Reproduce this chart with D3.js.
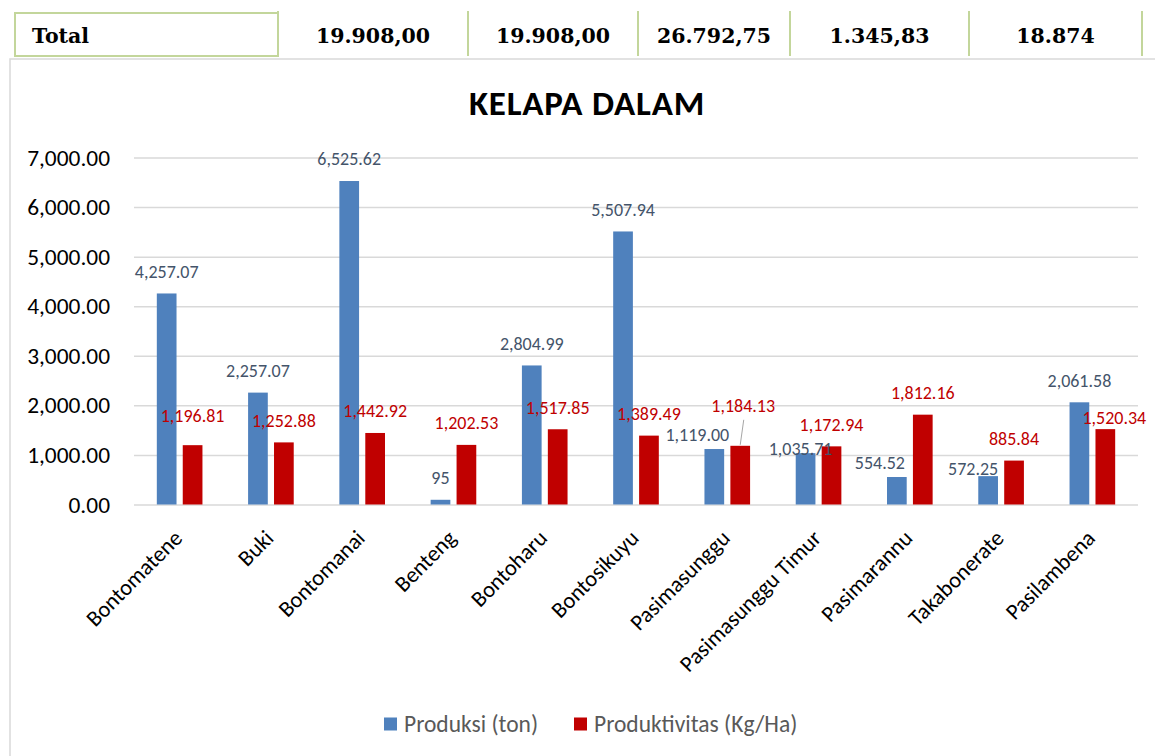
<!DOCTYPE html>
<html>
<head>
<meta charset="utf-8">
<script src="https://cdn.jsdelivr.net/npm/d3@7"></script>
<style>
  html, body { margin: 0; padding: 0; background: #fff; }
  svg { display: block; font-family: Carlito, Calibri, Lato, sans-serif; }
</style>
</head>
<body>
<svg id="chart" width="1155" height="756"></svg>
<script>
// data
const categories = ["Bontomatene", "Buki", "Bontomanai", "Benteng", "Bontoharu", "Bontosikuyu",
  "Pasimasunggu", "Pasimasunggu Timur", "Pasimarannu", "Takabonerate", "Pasilambena"];
const produksi = [4257.07, 2257.07, 6525.62, 95, 2804.99, 5507.94, 1119.00, 1035.71, 554.52, 572.25, 2061.58];
const produktivitas = [1196.81, 1252.88, 1442.92, 1202.53, 1517.85, 1389.49, 1184.13, 1172.94, 1812.16, 885.84, 1520.34];
const seriesNames = ["Produksi (ton)", "Produktivitas (Kg/Ha)"];
const yTicks = [0, 1000, 2000, 3000, 4000, 5000, 6000, 7000];
const totalRow = ["Total", "19.908,00", "19.908,00", "26.792,75", "1.345,83", "18.874"];
// Benteng produksi is shown without decimals in the source
const plainLabel = ["Benteng"];

// hand-moved data labels (dx, dy in px) like in the excel chart
const nudgeProd = { "Pasimasunggu": [-17, 8], "Pasimasunggu Timur": [-5, 18], "Pasimarannu": [-17, 8], "Takabonerate": [-15, 15] };
const nudgeProdv = { "Bontomatene": [0, -7], "Pasimasunggu": [3, -18], "Pasilambena": [9, 11] };

const colors = ["#4f81bd", "#c00000"];
const labelColors = ["#44546a", "#c00000"];

const svg = d3.select("#chart");

// --- table row on top
const tableX = [15, 278, 468, 638, 790, 969, 1142];
const green = "#c3d69b";
const table = svg.append("g");
table.append("rect")
  .attr("x", tableX[0]).attr("y", 13)
  .attr("width", tableX[1] - tableX[0]).attr("height", 43)
  .attr("fill", "none").attr("stroke", green).attr("stroke-width", 2);
table.selectAll("line.div")
  .data(tableX.slice(1))
  .enter().append("line")
  .attr("x1", d => d).attr("x2", d => d)
  .attr("y1", 11).attr("y2", 56)
  .attr("stroke", green).attr("stroke-width", 2);
table.selectAll("text")
  .data(totalRow)
  .enter().append("text")
  .attr("x", (d, i) => i === 0 ? 32 : (tableX[i] + tableX[i + 1]) / 2)
  .attr("y", 36)
  .attr("dy", "0.35em")
  .attr("text-anchor", (d, i) => i === 0 ? "start" : "middle")
  .style("font-family", "'DejaVu Serif', serif")
  .style("font-weight", "bold")
  .style("font-size", "20.5px")
  .attr("fill", "#000")
  .text(d => d);

// --- chart frame
svg.append("path")
  .attr("d", "M10,760 L10,59 L1160,59")
  .attr("fill", "none").attr("stroke", "#d9d9d9").attr("stroke-width", 1.5);

svg.append("text")
  .attr("x", 587).attr("y", 103).attr("dy", "0.35em")
  .attr("text-anchor", "middle")
  .style("font-weight", "bold").style("font-size", "35px")
  .style("letter-spacing", "0.8px")
  .text("KELAPA DALAM");

const plotL = 134, plotR = 1138, plotT = 157.5, plotB = 504.5;

const x = d3.scaleBand().domain(categories).range([plotL, plotR])
  .paddingInner(0.5).paddingOuter(0.25);
const xs = d3.scaleBand().domain([0, 1]).range([0, x.bandwidth()]).paddingInner(0.24);
const y = d3.scaleLinear().domain([0, 7000]).range([plotB, plotT]);

// y axis + gridlines
const yAxis = svg.append("g")
  .attr("transform", "translate(" + plotL + ",0)")
  .call(d3.axisLeft(y).tickValues(yTicks).tickFormat(d3.format(",.2f"))
    .tickSize(-(plotR - plotL)).tickPadding(24));
yAxis.attr("font-family", null).attr("font-size", null);
yAxis.select(".domain").remove();
yAxis.selectAll("line").attr("stroke", "#d9d9d9").attr("stroke-width", 1.5);
yAxis.selectAll("text").style("font-size", "23.4px").attr("fill", "#000");

// x axis labels
const xAxis = svg.append("g")
  .attr("transform", "translate(0," + plotB + ")")
  .call(d3.axisBottom(x).tickSize(0).tickPadding(0));
xAxis.attr("font-family", null).attr("font-size", null);
xAxis.select(".domain").remove();
xAxis.selectAll("text")
  .style("font-size", "22.5px").attr("fill", "#000")
  .attr("text-anchor", "end")
  .attr("dy", null).attr("y", 0)
  .attr("transform", "translate(4,35) rotate(-45)");

// bars
const rows = categories.map((c, i) => ({ cat: c, vals: [produksi[i], produktivitas[i]] }));
const groups = svg.selectAll("g.grp")
  .data(rows)
  .enter().append("g")
  .attr("class", "grp")
  .attr("transform", d => "translate(" + x(d.cat) + ",0)");

groups.selectAll("rect")
  .data(d => d.vals.map((v, s) => ({ cat: d.cat, v: v, s: s })))
  .enter().append("rect")
  .attr("x", d => xs(d.s))
  .attr("width", xs.bandwidth())
  .attr("y", d => y(d.v))
  .attr("height", d => y(0) - y(d.v))
  .attr("fill", d => colors[d.s]);

// data labels
const fmt = d3.format(",.2f");
function labelPos(d) {
  const nudge = (d.s === 0 ? nudgeProd : nudgeProdv)[d.cat] || [0, 0];
  return [xs(d.s) + xs.bandwidth() / 2 + nudge[0], y(d.v) - 22 + nudge[1]];
}

groups.selectAll("text.lbl")
  .data(d => d.vals.map((v, s) => ({ cat: d.cat, v: v, s: s })))
  .enter().append("text")
  .attr("class", "lbl")
  .attr("x", d => labelPos(d)[0])
  .attr("y", d => labelPos(d)[1])
  .attr("dy", "0.35em")
  .attr("text-anchor", "middle")
  .style("font-size", "18px")
  .attr("fill", d => labelColors[d.s])
  .text(d => d.s === 0 && plainLabel.includes(d.cat) ? String(d.v) : fmt(d.v));

// leader line for the moved Pasimasunggu label
groups.filter(d => d.cat === "Pasimasunggu")
  .append("line")
  .attr("x1", xs(1) + xs.bandwidth() / 2 + 3.5)
  .attr("y1", d => labelPos({ cat: d.cat, v: d.vals[1], s: 1 })[1] + 14)
  .attr("x2", xs(1) + xs.bandwidth() / 2)
  .attr("y2", d => y(d.vals[1]) - 1)
  .attr("stroke", "#a6a6a6").attr("stroke-width", 1);

// legend
const legend = svg.append("g").attr("transform", "translate(384,717.5)");
const legX = [0, 190];
seriesNames.forEach((name, i) => {
  legend.append("rect").attr("x", legX[i]).attr("y", 0).attr("width", 13).attr("height", 13)
    .attr("fill", colors[i]);
  legend.append("text").attr("x", legX[i] + 20).attr("y", 6.5).attr("dy", "0.35em")
    .style("font-size", "23.5px").attr("fill", "#595959").text(name);
});
</script>
</body>
</html>
